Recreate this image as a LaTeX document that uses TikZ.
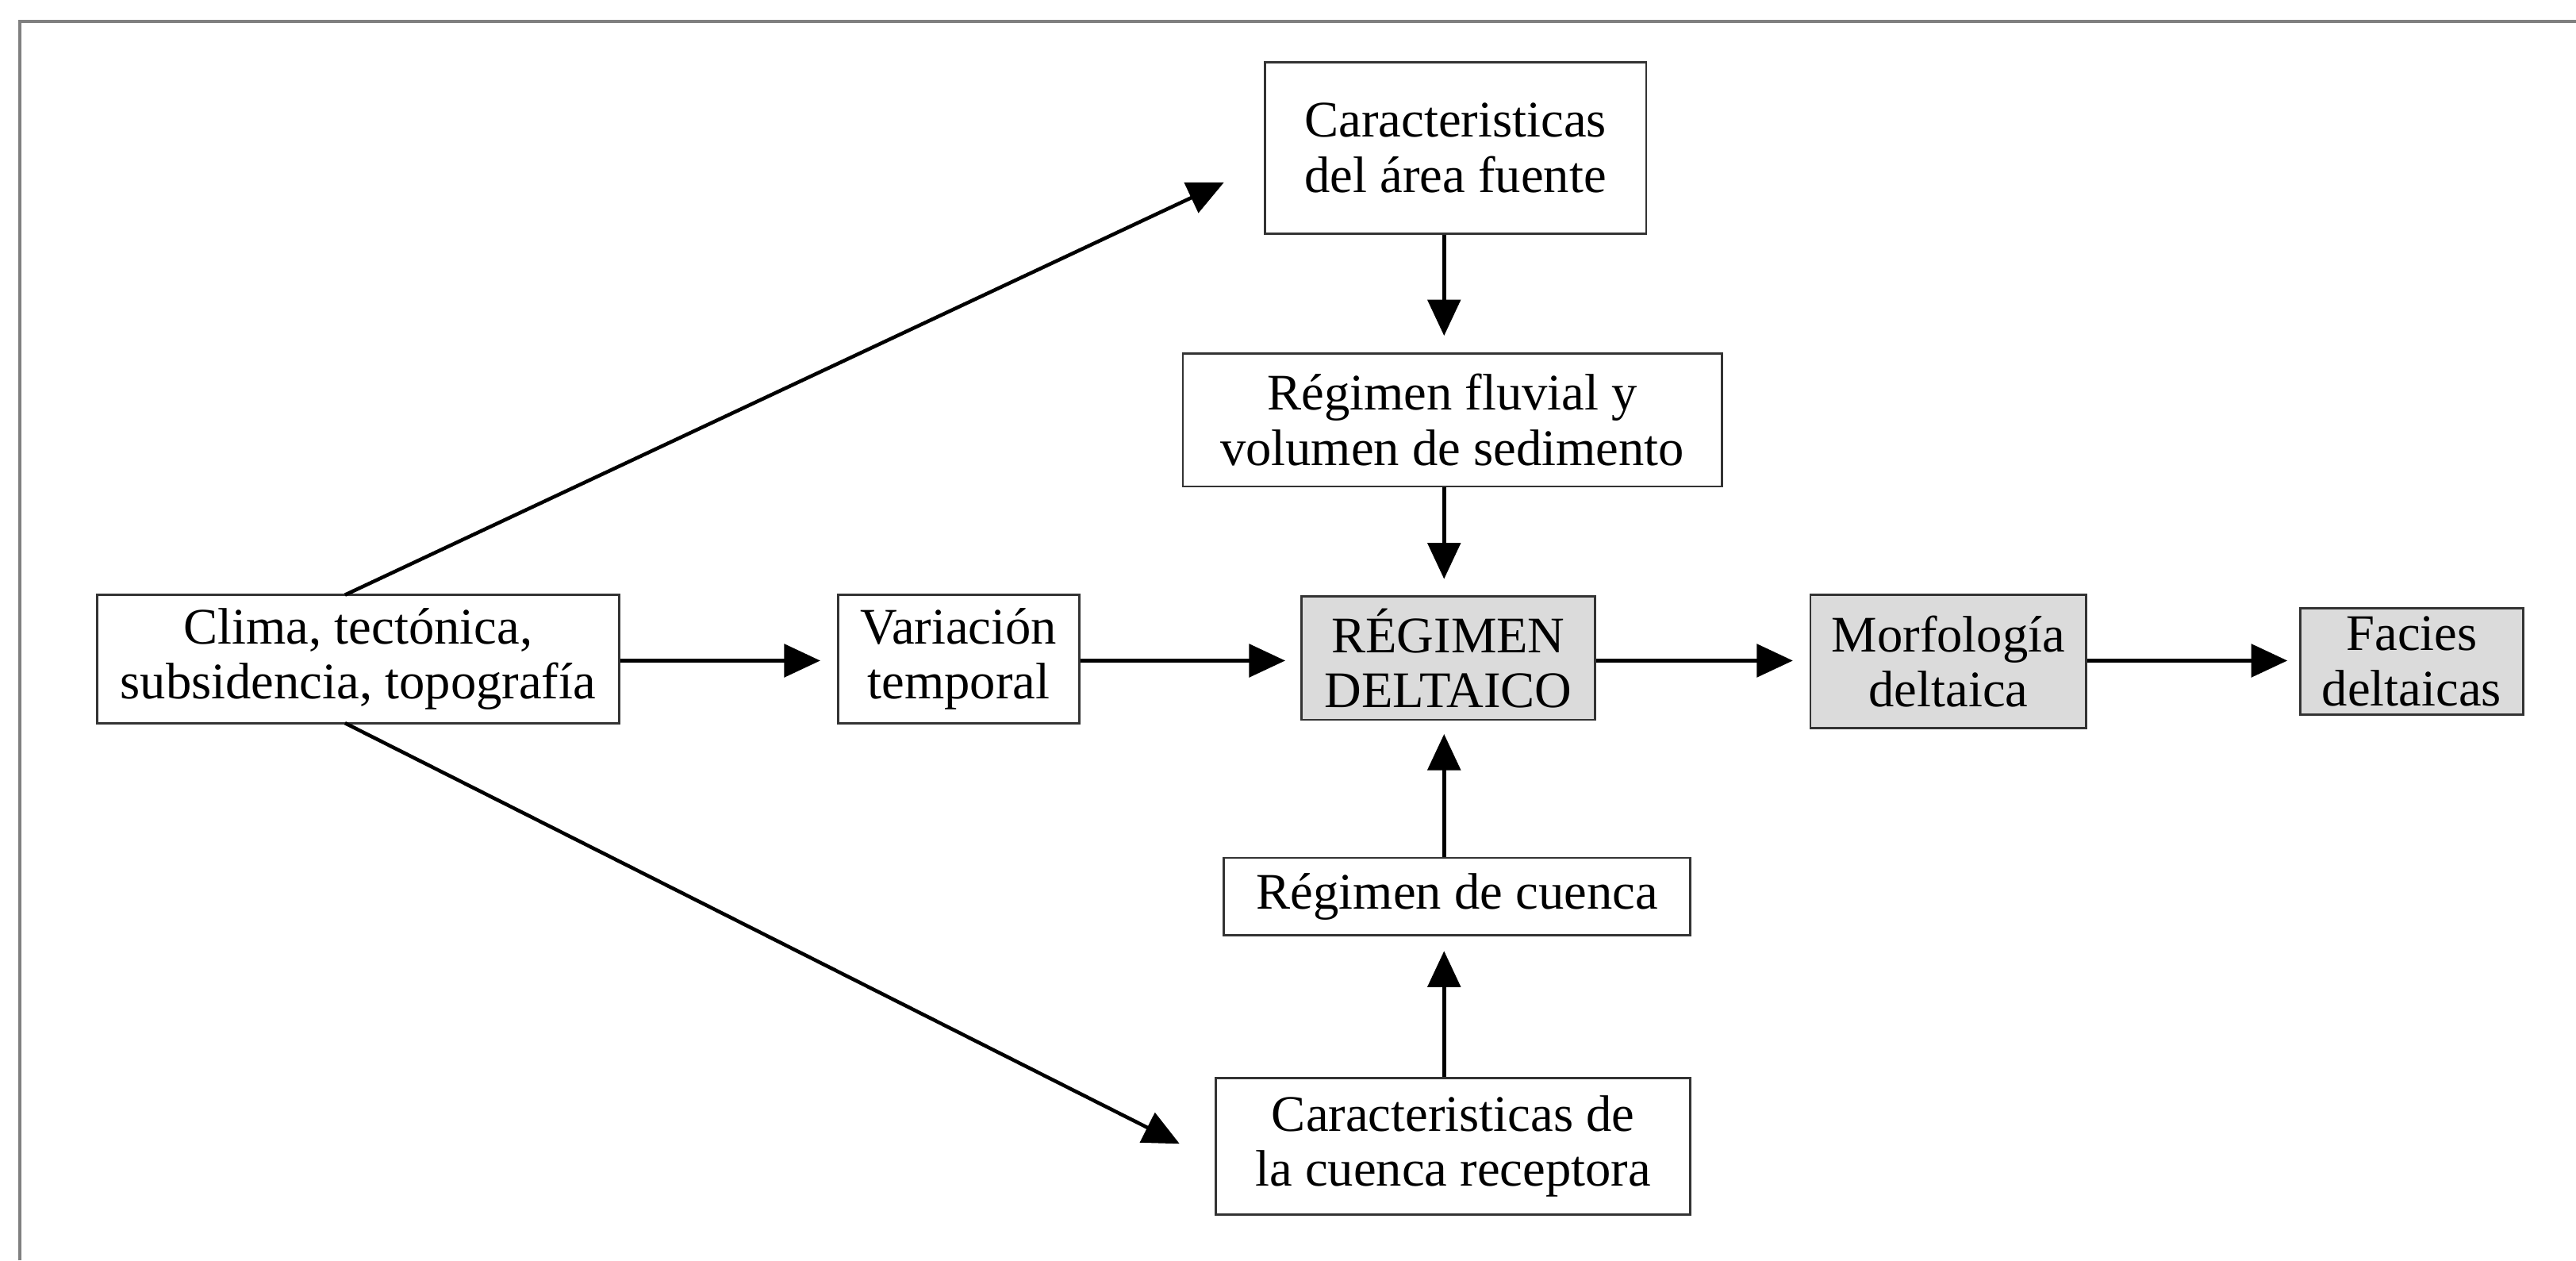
\documentclass[tikz,border=0pt]{standalone}
\usepackage{fontspec}
\setmainfont{Liberation Serif}
\usetikzlibrary{arrows.meta,calc}
\tikzset{
  box/.style={draw=black!80, line width=0.7pt, fill=white, rectangle, inner sep=0pt, align=center,
    font=\fontsize{15.6}{16.8}\selectfont},
  graybox/.style={box, fill=black!14},
  arr/.style={line width=1.1pt, -{Triangle[length=11pt,width=10pt]}},
  frame/.style={draw=black!50, line width=1pt}
}
\begin{document}
\begin{tikzpicture}[x=0.5pt,y=-0.5pt]
\useasboundingbox (0,0) rectangle (1568,767);
\fill[white] (0,0) rectangle (1568,767);
\draw[frame] (12,767) -- (12,13) -- (1568,13);

\node[box, minimum width=159pt, minimum height=39pt] (clima) at (218,401) {Clima, tectónica,\\subsidencia, topografía};
\node[box, minimum width=73.5pt, minimum height=39pt] (var) at (583.5,401) {Variación\\temporal};
\node[graybox, minimum width=89.5pt, minimum height=37.5pt] (reg) at (881.5,400.5) {RÉGIMEN\\DELTAICO};
\node[graybox, minimum width=84pt, minimum height=40.5pt] (morf) at (1186,402.5) {Morfología\\deltaica};
\node[graybox, minimum width=68pt, minimum height=32.5pt] (fac) at (1468,402.5) {Facies\\deltaicas};
\node[box, minimum width=116pt, minimum height=52pt] (carfu) at (886,90) {Caracteristicas\\del área fuente};
\node[box, minimum width=164pt, minimum height=40.5pt] (fluv) at (884,255.5) {Régimen fluvial y\\volumen de sedimento};
\node[box, minimum width=142pt, minimum height=23.5pt] (cuen) at (887,545.5) {Régimen de cuenca};
\node[box, minimum width=144.5pt, minimum height=41.5pt] (carcu) at (884.5,697.5) {Caracteristicas de\\la cuenca receptora};

\coordinate (vx) at (879,0);
\coordinate (hy) at (0,402);
\coordinate (d1s) at (210,362);
\coordinate (d1e) at (745,111);
\coordinate (d2s) at (210,440);
\coordinate (d2e) at (718,696);

\draw[arr] (d1s) -- (d1e);
\draw[arr] (d2s) -- (d2e);
\draw[arr, shorten >=5pt] (clima.east |- hy) -- (var.west |- hy);
\draw[arr, shorten >=4.5pt] (var.east |- hy) -- (reg.west |- hy);
\draw[arr, shorten >=5pt] (reg.east |- hy) -- (morf.west |- hy);
\draw[arr, shorten >=3.5pt] (morf.east |- hy) -- (fac.west |- hy);
\draw[arr, shorten >=5pt] (carfu.south -| vx) -- (fluv.north -| vx);
\draw[arr, shorten >=5pt] (fluv.south -| vx) -- (reg.north -| vx);
\draw[arr, shorten >=4pt] (cuen.north -| vx) -- (reg.south -| vx);
\draw[arr, shorten >=4.5pt] (carcu.north -| vx) -- (cuen.south -| vx);
\end{tikzpicture}
\end{document}
